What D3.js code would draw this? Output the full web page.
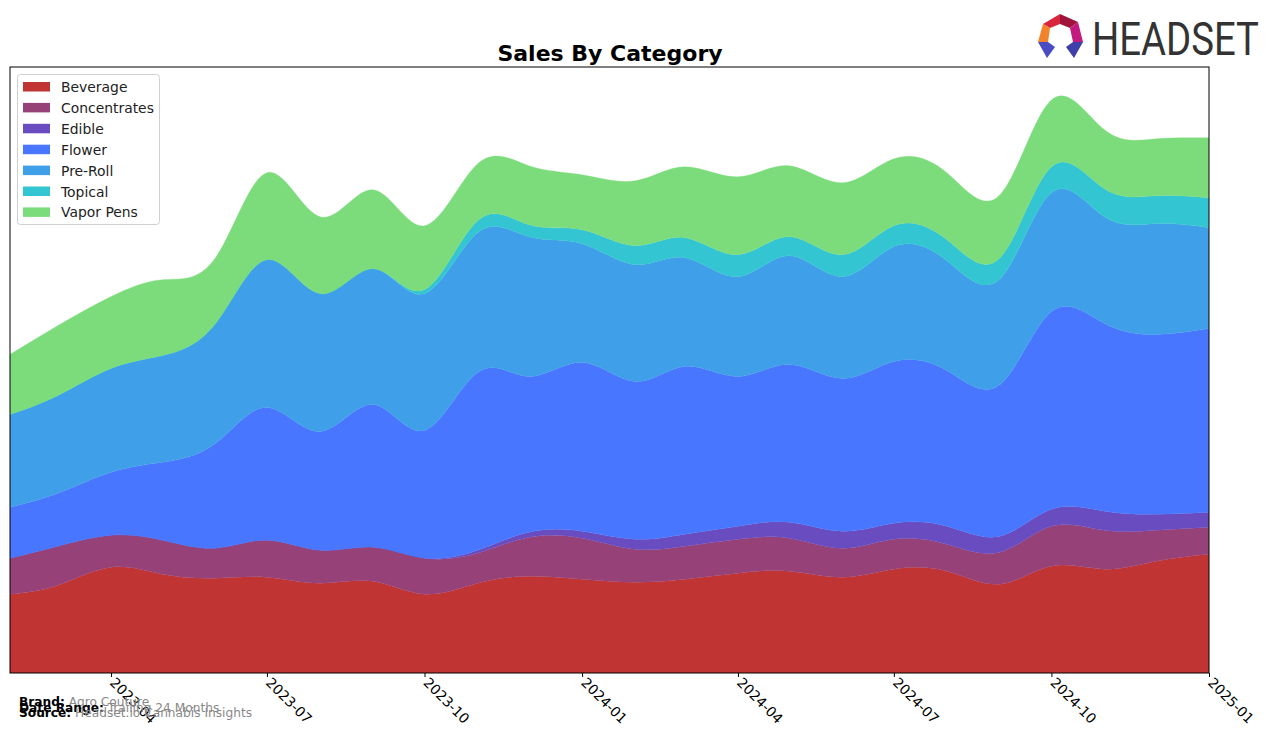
<!DOCTYPE html>
<html>
<head>
<meta charset="utf-8">
<script src="https://cdn.jsdelivr.net/npm/d3@7"></script>
<style>
  html, body { margin: 0; padding: 0; background: #fff; }
  svg { display: block; }
</style>
</head>
<body>
<svg id="chart" width="1276" height="743"></svg>
<script>
// ---- data ----
const months = ["2023-02","2023-03","2023-04","2023-05","2023-06","2023-07","2023-08","2023-09","2023-10","2023-11","2023-12",
  "2024-01","2024-02","2024-03","2024-04","2024-05","2024-06","2024-07","2024-08","2024-09","2024-10","2024-11","2024-12","2025-01"];
const categories = ["Beverage","Concentrates","Edible","Flower","Pre-Roll","Topical","Vapor Pens"];
const beverage     = [79, 88,106, 99, 95, 96, 90, 92, 79, 90, 97, 94, 91, 94,100,102, 96,104,102, 89,107,104,112,119];
const concentrates = [36, 39, 32, 34, 30, 37, 33, 34, 36, 30, 39, 41, 33, 33, 34, 33, 29, 30, 27, 32, 40, 39, 31, 27];
const edible       = [ 0,  0,  0,  0,  0,  0,  0,  0,  0,  3,  5,  7, 10, 12, 13, 16, 17, 16, 18, 16, 17, 19, 16, 15];
const flower       = [51, 53, 63, 78,105,133,119,143,128,178,156,169,158,168,150,158,153,162,156,152,198,188,180,184];
const preRoll      = [93, 98,104,107,120,148,138,136,137,140,140,119,117,109,100,109,102,115,110,106,119,107,111,101];
const topical      = [ 0,  0,  0,  0,  0,  0,  0,  0,  4, 12, 12, 14, 19, 20, 22, 19, 22, 21, 21, 21, 26, 28, 28, 30];
const vaporPens    = [60, 70, 72, 76, 66, 87, 77, 79, 64, 57, 59, 55, 65, 71, 78, 71, 72, 67, 67, 63, 67, 59, 57, 60];
const tickLabels = ["2023-04","2023-07","2023-10","2024-01","2024-04","2024-07","2024-10","2025-01"];
const colors = ["#c13434","#964278","#684cc0","#4876ff","#3f9fe8","#34c5d2","#7cdc7c"];

const seriesValues = [beverage, concentrates, edible, flower, preRoll, topical, vaporPens];
const parse = d3.timeParse("%Y-%m");
const rows = months.map((m, i) => {
  const r = { date: parse(m) };
  categories.forEach((c, j) => r[c] = seriesValues[j][i]);
  return r;
});

// ---- layout ----
const svg = d3.select("#chart");
const L = 10, R = 1209, T = 67, B = 673;

const x = d3.scaleTime().domain([parse("2023-02"), parse("2025-01")]).range([L, R]);
const layers = d3.stack().keys(categories)(rows);
const maxTotal = d3.max(layers[layers.length - 1], d => d[1]);
const y = d3.scaleLinear().domain([0, maxTotal * 1.05]).range([B, T]);

const area = d3.area()
  .curve(d3.curveNatural)
  .x(d => x(d.data.date))
  .y0(d => y(d[0]))
  .y1(d => y(d[1]));

svg.append("defs").append("clipPath").attr("id", "clip")
  .append("rect").attr("x", L).attr("y", T).attr("width", R - L).attr("height", B - T);

const gArea = svg.append("g").attr("clip-path", "url(#clip)");

// measure the top of the smoothed stack, then set y limit to 5% above it
const probe = svg.append("path").attr("d", d3.line().curve(d3.curveNatural)
  .x(d => x(d.data.date)).y(d => y(d[1]))(layers[layers.length - 1]));
const topPx = probe.node().getBBox().y;
probe.remove();
const smoothMax = y.invert(topPx);
y.domain([0, smoothMax * 1.05]);

gArea.selectAll("path").data(layers).join("path")
  .attr("d", area)
  .attr("fill", (d, i) => colors[i])
  .attr("stroke", (d, i) => colors[i])
  .attr("stroke-width", 0.3);

// frame
svg.append("rect").attr("x", L).attr("y", T).attr("width", R - L).attr("height", B - T)
  .attr("fill", "none").attr("stroke", "#000").attr("stroke-width", 1);

// x axis
const xAxis = d3.axisBottom(x)
  .tickValues(tickLabels.map(parse))
  .tickFormat(d3.timeFormat("%Y-%m"))
  .tickSize(4).tickPadding(3);
const gx = svg.append("g").attr("transform", `translate(0,${B})`).call(xAxis);
gx.select(".domain").remove();
gx.selectAll("line").attr("stroke", "#000");
gx.selectAll("text")
  .attr("font-family", "DejaVu Sans")
  .attr("font-size", 13.9)
  .attr("fill", "#000")
  .attr("text-anchor", "start")
  .attr("dy", "0.35em")
  .attr("transform", "translate(1,7) rotate(45)")
  .attr("x", 0).attr("y", 0);

// title
svg.append("text").attr("x", 610).attr("y", 61).attr("text-anchor", "middle")
  .attr("font-family", "DejaVu Sans").attr("font-weight", "bold").attr("font-size", 22)
  .text("Sales By Category");

// legend
const lg = svg.append("g");
lg.append("rect").attr("x", 17.5).attr("y", 74.5).attr("width", 142).attr("height", 150)
  .attr("rx", 3).attr("fill", "#fff").attr("stroke", "#d0d0d0");
categories.forEach((c, i) => {
  const yy = 87 + i * 20.9;
  lg.append("rect").attr("x", 23).attr("y", yy - 5).attr("width", 27).attr("height", 9.5).attr("fill", colors[i]);
  lg.append("text").attr("x", 61).attr("y", yy + 5)
    .attr("font-family", "DejaVu Sans").attr("font-size", 13.9).attr("fill", "#222").text(c);
});

// footer
const foot = [["Brand:", "Agro Couture", 706], ["Date Range:", "Trailing 24 Months", 712], ["Source:", "Headset.io Cannabis Insights", 717]];
foot.forEach(([k, v, yy]) => {
  const t = svg.append("text").attr("x", 19).attr("y", yy)
    .attr("font-family", "DejaVu Sans").attr("font-size", 12.2);
  t.append("tspan").attr("font-weight", "bold").attr("fill", "#000").text(k);
  t.append("tspan").attr("fill", "#888").text(" " + v);
});

// logo
const logo = svg.append("g");
const polys = [
  [[[1043,24],[1060,14],[1060,24],[1050,28]], "#d8263c"],
  [[[1060,14],[1078,22],[1070,28],[1060,24]], "#a0143c"],
  [[[1078,22],[1083,42],[1073,42],[1070,28]], "#c21a7f"],
  [[[1043,24],[1050,28],[1048,42],[1038,42]], "#f2832a"],
  [[[1038,42],[1048,42],[1055,47],[1047,58]], "#4a4cc4"],
  [[[1083,42],[1073,42],[1066,47],[1074,58]], "#3e3fa8"]
];
polys.forEach(([pts, c]) => logo.append("polygon").attr("points", pts.map(p => p.join(",")).join(" ")).attr("fill", c));
const brandText = logo.append("text").attr("x", 0).attr("y", 0)
  .attr("font-family", "Roboto").attr("font-size", 47).attr("fill", "#333")
  .text("HEADSET");
const natW = brandText.node().getComputedTextLength();
brandText.attr("transform", `translate(1092,55) scale(${167 / natW},1)`);
</script>
</body>
</html>
